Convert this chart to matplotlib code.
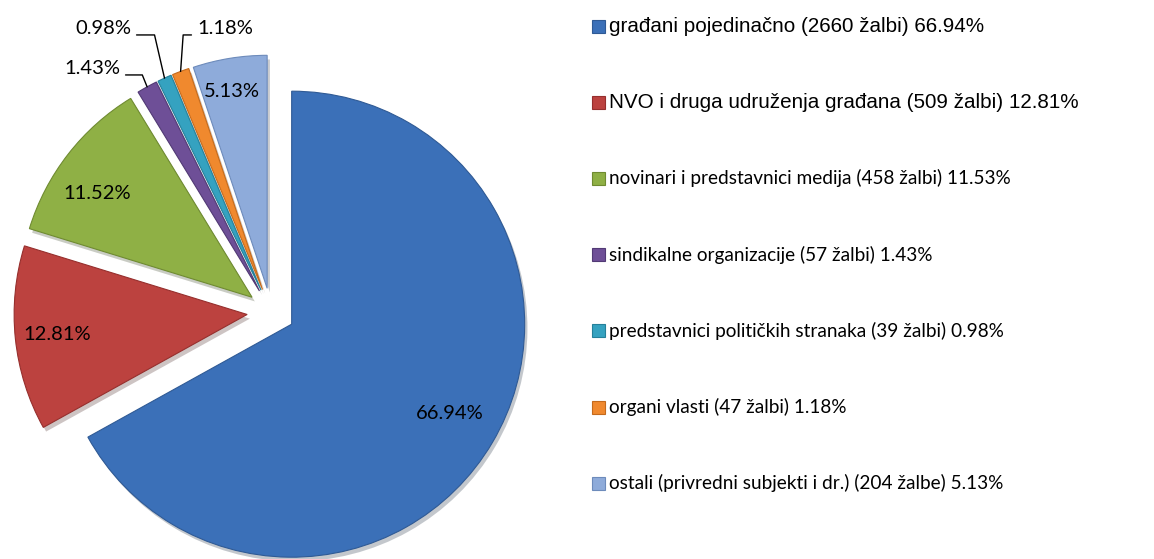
import matplotlib.pyplot as plt
import matplotlib.patheffects as pe
from matplotlib.patches import Rectangle
import numpy as np

# Data
groups = ['građani pojedinačno', 'NVO i druga udruženja građana',
          'novinari i predstavnici medija', 'sindikalne organizacije',
          'predstavnici političkih stranaka', 'organi vlasti',
          'ostali (privredni subjekti i dr.)']
complaints = [2660, 509, 458, 57, 39, 47, 204]
complaint_word = ['žalbi', 'žalbi', 'žalbi', 'žalbi', 'žalbi', 'žalbi', 'žalbe']
slice_pct = [66.94, 12.81, 11.52, 1.43, 0.98, 1.18, 5.13]
legend_pct = [66.94, 12.81, 11.53, 1.43, 0.98, 1.18, 5.13]
colors = ['#3B70B8', '#BC423F', '#8FB045', '#6E4F97', '#35A2C0', '#F0892E', '#8EABDA']
edges = ['#2F5A95', '#962F2D', '#6F8B31', '#523a75', '#25809a', '#c46a1c', '#6D8BBB']

fig = plt.figure(figsize=(11.54, 5.59), dpi=100)
ax = fig.add_axes([0, 0, 1, 1])

H = 559  # work in pixel units, y up
wedges, _ = ax.pie(slice_pct, colors=colors, startangle=90, counterclock=False,
                   center=(271, H - 312), radius=233, explode=[24] * 7,
                   wedgeprops=dict(linewidth=0.8))
for w, ec in zip(wedges, edges):
    w.set_edgecolor(ec)
    w.set_path_effects([pe.SimplePatchShadow(offset=(2, -3), alpha=0.25), pe.Normal()])

ax.set_xlim(0, 1154)
ax.set_ylim(0, H)
ax.set_aspect('equal')
ax.axis('off')

label_font = dict(fontfamily='Lato', fontsize=14.5, color='black')

# labels inside the big slices (distance from slice tip, fraction of radius; angle nudge)
inside = {0: (0.78, 1), 1: (0.82, 0), 2: (0.80, 4), 6: (0.86, 1)}
for i, (dist, nudge) in inside.items():
    w = wedges[i]
    mid = np.radians((w.theta1 + w.theta2) / 2 + nudge)
    cx, cy = w.center
    ax.text(cx + dist * w.r * np.cos(mid), cy + dist * w.r * np.sin(mid),
            f'{slice_pct[i]:.2f}%', ha='center', va='center', **label_font)

# small slices with leader lines
out_pos = {3: (120, H - 69), 4: (131, H - 29), 5: (197, H - 29)}
leader_angle = {3: 112, 4: 103, 5: 86}
for i, (tx, ty) in out_pos.items():
    w = wedges[i]
    mid = np.radians((w.theta1 + w.theta2) / 2)
    cx, cy = w.center
    px, py = cx + w.r * np.cos(mid), cy + w.r * np.sin(mid)
    right = i != 5
    ax.annotate(f'{slice_pct[i]:.2f}%', xy=(px, py), xytext=(tx, ty),
                ha='right' if right else 'left', va='center', **label_font,
                arrowprops=dict(arrowstyle='-', color='black', lw=1,
                                shrinkA=2, shrinkB=0,
                                relpos=(1.0, 0.15) if right else (0.0, 0.15),
                                connectionstyle=f'angle,angleA=0,angleB={leader_angle[i]},rad=0'))

# legend
for i in range(len(groups)):
    y = H - (26 + 76.2 * i)
    ax.add_patch(Rectangle((592, y - 6.5), 13, 13, facecolor=colors[i],
                           edgecolor=edges[i], linewidth=0.8))
    text = f'{groups[i]} ({complaints[i]} {complaint_word[i]}) {legend_pct[i]:.2f}%'
    if i < 2:
        ax.text(609, y, text, va='center', ha='left', fontfamily='Liberation Sans',
                fontsize=14.9)
    else:
        ax.text(609, y, text, va='center', ha='left', fontfamily='Lato', fontsize=13.7)

fig.savefig('out.png', dpi=100)
